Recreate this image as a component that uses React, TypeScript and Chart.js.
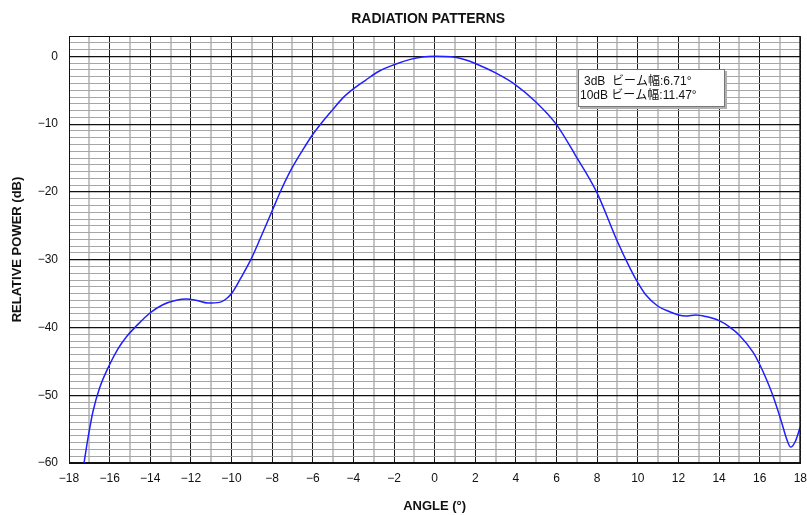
import React, { useEffect, useRef } from "react";
import { Chart, registerables } from "chart.js";

Chart.register(...registerables);

const CHART_TITLE = "RADIATION PATTERNS";
const X_TITLE = "ANGLE (°)";
const Y_TITLE = "RELATIVE POWER (dB)";
const NOTE_LINES = ["3dB  ビーム幅:6.71°", "10dB ビーム幅:11.47°"];

const X_MIN = -18;
const X_MAX = 18;
const Y_MIN = -60;
const Y_MAX = 3;

const ANGLES = [
  -17.26, -17.07, -16.82, -16.49, -16.03, -15.59, -15.18, -14.69, -14.03, -13.38,
  -12.72, -12.23, -11.74, -11.16, -10.59, -10.27, -10.0, -9.56, -9.05, -8.56,
  -8.0, -7.57, -7.08, -6.51, -6.02, -5.52, -5.03, -4.54, -4.02, -3.39,
  -2.74, -2.0, -1.2, -0.6, 0, 0.5, 1.0, 1.5, 2.0, 3.0, 3.98,
  4.97, 5.98, 6.93, 7.97, 8.98, 9.64, 10.0, 10.38, 10.96, 11.54,
  12.0, 12.36, 12.86, 13.36, 14.0, 14.51, 15.0, 15.67, 16.03, 16.33,
  16.66, 17.07, 17.32, 17.52, 17.74, 18.0,
];

const POWER = [
  -60.0, -56.4, -52.4, -48.9, -45.65, -43.15, -41.4, -39.8, -37.9, -36.65,
  -36.0, -35.8, -36.0, -36.4, -36.3, -35.8, -35.0, -32.8, -30.0, -26.7,
  -22.8, -19.8, -16.8, -13.9, -11.6, -9.65, -7.9, -6.2, -4.85, -3.5,
  -2.2, -1.24, -0.45, -0.1, 0, -0.02, -0.15, -0.5, -1.05, -2.45, -4.2,
  -6.7, -10.0, -14.6, -20.0, -27.2, -31.4, -33.4, -35.15, -36.8, -37.65,
  -38.15, -38.3, -38.15, -38.4, -39.0, -39.9, -41.15, -43.65, -45.65, -47.65,
  -50.15, -53.9, -56.4, -57.65, -56.9, -54.65,
];

const FONT = "'Liberation Sans', Arial, sans-serif";
const CJK_FONT = "'Liberation Sans', 'Noto Sans CJK JP', sans-serif";

const fmt = (v: number) => (v < 0 ? "\u2212" + Math.abs(v) : String(v));

const decorPlugin = {
  id: "decor",
  afterDatasetsDraw(chart: any) {
    const { ctx, chartArea } = chart;
    const { left, top, right, bottom } = chartArea;
    ctx.save();
    ctx.strokeStyle = "#111";
    ctx.lineWidth = 1;
    ctx.strokeRect(left + 0.5, top + 0.5, right - left - 1, bottom - top);
    const bx = 578, by = 69, bw = 147, bh = 38;
    ctx.fillStyle = "#b0b0b0";
    ctx.fillRect(bx + 2, by + 2, bw, bh);
    ctx.fillStyle = "#fff";
    ctx.fillRect(bx, by, bw, bh);
    ctx.strokeStyle = "#777";
    ctx.strokeRect(bx + 0.5, by + 0.5, bw - 1, bh - 1);
    ctx.fillStyle = "#111";
    ctx.font = "12px " + CJK_FONT;
    ctx.textBaseline = "middle";
    ctx.textAlign = "left";
    ctx.fillText(NOTE_LINES[0], 584, 82);
    ctx.fillText(NOTE_LINES[1], 580, 96);
    ctx.restore();
  },
  afterDraw(chart: any) {
    const { ctx, chartArea } = chart;
    ctx.save();
    ctx.fillStyle = "#111";
    ctx.font = "bold 14px " + FONT;
    ctx.textAlign = "center";
    ctx.textBaseline = "middle";
    ctx.fillText(CHART_TITLE, (chartArea.left + chartArea.right) / 2 - 6.5, 19);
    ctx.restore();
  },
};

export default function App() {
  const ref = useRef<HTMLCanvasElement | null>(null);

  useEffect(() => {
    if (!ref.current) return;
    const points = ANGLES.map((a, i) => ({ x: a, y: POWER[i] }));
    const chart = new Chart(ref.current, {
      type: "line",
      data: {
        datasets: [
          {
            data: points,
            borderColor: "#1f1fff",
            borderWidth: 1.5,
            pointRadius: 0,
            cubicInterpolationMode: "monotone",
            fill: false,
          },
        ],
      },
      options: {
        responsive: false,
        animation: false,
        events: [],
        layout: { padding: { top: 36, right: 14, bottom: 0, left: 0 } },
        plugins: {
          legend: { display: false },
          tooltip: { enabled: false },
          title: { display: false },
        },
        scales: {
          x: {
            type: "linear",
            min: X_MIN,
            max: X_MAX,
            afterFit: (s: any) => {
              s.height = 52;
            },
            ticks: {
              stepSize: 1,
              autoSkip: false,
              maxRotation: 0,
              padding: 8,
              color: "#111",
              font: { family: FONT, size: 12 },
              callback: (v: any) => (Number(v) % 2 === 0 ? fmt(Number(v)) : ""),
            },
            grid: {
              drawTicks: false,
              color: (c: any) => (Math.abs(c.tick.value) % 2 === 0 ? "#1a1a1a" : "#c4c4c4"),
              lineWidth: (c: any) => (Math.abs(c.tick.value) % 2 === 0 ? 1 : 2),
            },
            border: { display: true, color: "#111" },
            title: {
              display: true,
              text: X_TITLE,
              color: "#111",
              font: { family: FONT, size: 13, weight: "bold" },
              padding: { top: 0, bottom: 1 },
            },
          },
          y: {
            min: Y_MIN,
            max: Y_MAX,
            afterFit: (s: any) => {
              s.width = 69;
            },
            ticks: {
              stepSize: 1,
              autoSkip: false,
              padding: 11,
              color: "#111",
              font: { family: FONT, size: 12 },
              callback: (v: any) => (Number(v) % 10 === 0 ? fmt(Number(v)) : ""),
            },
            grid: {
              drawTicks: false,
              color: (c: any) => (Math.abs(c.tick.value) % 10 === 0 ? "#111" : "#a6a6a6"),
              lineWidth: (c: any) => (Math.abs(c.tick.value) % 10 === 0 ? 1.2 : 1),
            },
            border: { display: true, color: "#111" },
            title: {
              display: true,
              text: Y_TITLE,
              color: "#111",
              font: { family: FONT, size: 13, weight: "bold" },
              padding: { top: 10, bottom: 0 },
            },
          },
        },
      },
      plugins: [decorPlugin],
    } as any);
    return () => chart.destroy();
  }, []);

  return (
    <div
      style={{
        position: "fixed",
        left: 0,
        top: 0,
        width: 807,
        height: 515,
        overflow: "hidden",
        background: "#fff",
      }}
    >
      <canvas ref={ref} width={815} height={515} style={{ display: "block", width: 815, height: 515 }} />
    </div>
  );
}
